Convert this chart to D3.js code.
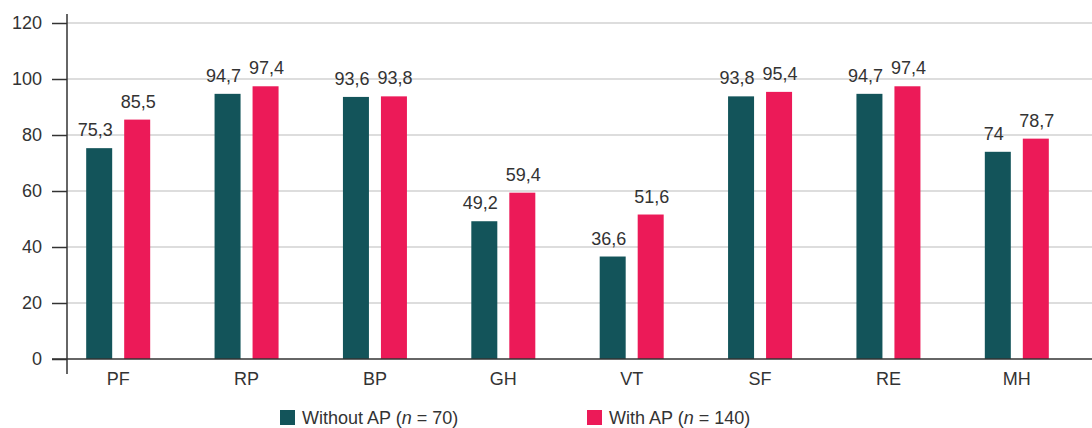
<!DOCTYPE html>
<html><head><meta charset="utf-8">
<script src="https://cdn.jsdelivr.net/npm/d3@7"></script>
<style>body{margin:0;background:#fff}svg{display:block;font-family:"Liberation Sans",Arial,sans-serif}</style>
</head><body><svg id="c" width="1092" height="428"></svg>
<script>
const categories = ["PF","RP","BP","GH","VT","SF","RE","MH"];
const withoutAP = [75.3,94.7,93.6,49.2,36.6,93.8,94.7,74];
const withAP = [85.5,97.4,93.8,59.4,51.6,95.4,97.4,78.7];
const seriesNames = ["Without AP", "With AP"];
const seriesN = [70, 140];
const yTicks = [0,20,40,60,80,100,120];
const colors = ["#13545a","#ec1a58"];

const svg = d3.select("#c");
const W = 1092;
const FS = 18;
const y = d3.scaleLinear().domain([0,120]).range([359,23]);
const x = d3.scaleBand().domain(categories).range([54,1081]).padding(0);
const barW = 26, gap = 12;
const labelShift = [-4, 1];
const fmt = v => String(v).replace(".", ",");

// gridlines
svg.append("g").selectAll("line").data(yTicks.filter(d=>d>0)).join("line")
  .attr("x1",67).attr("x2",W).attr("y1",d=>y(d)).attr("y2",d=>y(d))
  .attr("stroke","#d2d2d2").attr("stroke-width",1.5);

// y axis
const yAxis = svg.append("g").attr("transform","translate(67,0)")
  .call(d3.axisLeft(y).tickValues(yTicks).tickSize(15).tickPadding(10).tickFormat(d=>d));
yAxis.select(".domain").remove();
yAxis.selectAll(".tick line").attr("stroke","#333").attr("stroke-width",1.5);
yAxis.selectAll(".tick text").attr("font-size",FS).attr("fill","#333").attr("font-family","Liberation Sans, Arial, sans-serif");
svg.append("line").attr("x1",67).attr("x2",67).attr("y1",14).attr("y2",374).attr("stroke","#333").attr("stroke-width",1.5);

// bars
const series = [withoutAP, withAP];
series.forEach((vals,si)=>{
  const g = svg.append("g");
  const bx = (c)=> x(c)+x.bandwidth()/2 + (si===0 ? -(gap/2+barW) : gap/2);
  g.selectAll("rect").data(categories).join("rect")
    .attr("x",(c)=>bx(c)).attr("width",barW)
    .attr("y",(c,i)=>y(vals[i])).attr("height",(c,i)=>y(0)-y(vals[i]))
    .attr("fill",colors[si]);
  g.selectAll("text").data(categories).join("text")
    .attr("x",(c)=>bx(c)+barW/2+labelShift[si]).attr("y",(c,i)=>y(vals[i])-12)
    .attr("text-anchor","middle").attr("font-size",FS).attr("fill","#333")
    .text((c,i)=>fmt(vals[i]));
});

// baseline + x axis
svg.append("line").attr("x1",52).attr("x2",W).attr("y1",y(0)).attr("y2",y(0)).attr("stroke","#333").attr("stroke-width",1.5);
const xAxis = svg.append("g").attr("transform",`translate(0,${y(0)})`)
  .call(d3.axisBottom(x).tickSize(0).tickPadding(13));
xAxis.select(".domain").remove();
xAxis.selectAll(".tick text").attr("font-size",FS).attr("fill","#333").attr("font-family","Liberation Sans, Arial, sans-serif");

// legend
const legX = [280, 587];
seriesNames.forEach((name,i)=>{
  const g = svg.append("g").attr("transform",`translate(${legX[i]},410)`);
  g.append("rect").attr("width",15).attr("height",15).attr("fill",colors[i]);
  const t = g.append("text").attr("x",22).attr("y",14).attr("font-size",FS).attr("fill","#333");
  t.append("tspan").text(name+" (");
  t.append("tspan").attr("font-style","italic").text("n");
  t.append("tspan").text(" = "+seriesN[i]+")");
});
</script></body></html>
